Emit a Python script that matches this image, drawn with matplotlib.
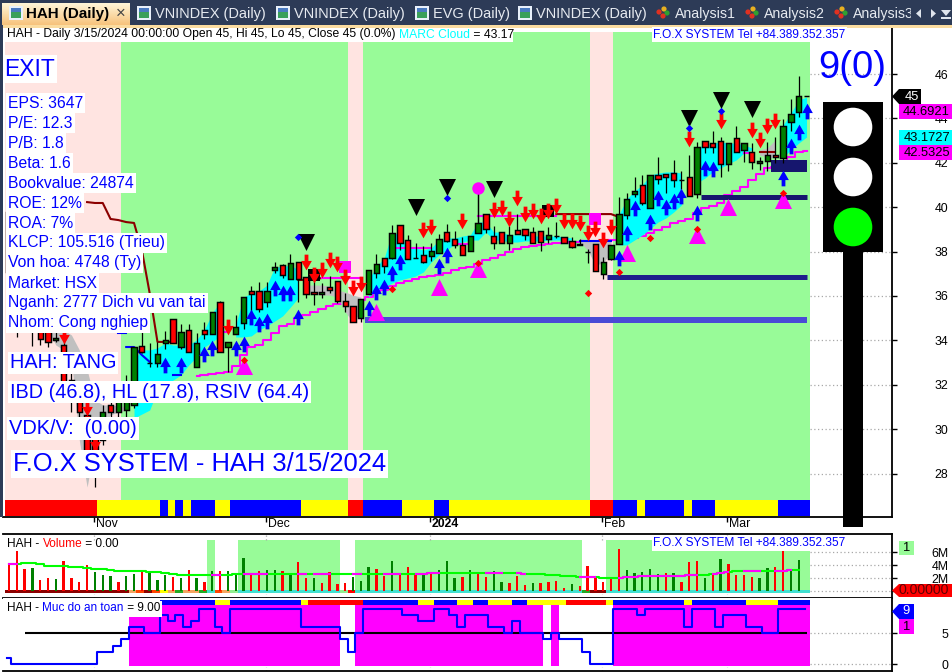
import numpy as np
import matplotlib
matplotlib.use("Agg")
import matplotlib.pyplot as plt
from matplotlib.path import Path
from matplotlib.patches import Rectangle, Circle, Polygon
from matplotlib.transforms import ScaledTranslation

plt.rcParams['font.family'] = ['Liberation Sans', 'DejaVu Sans']

# ---------------- price data (one entry per daily bar) ----------------
opens = [39.78,38.88,38.07,36.36,34.83,34.69,34.02,33.80,32.20,31.40,
 30.64,29.96,29.51,31.09,30.77,30.86,31.09,33.75,32.98,32.98,
 33.88,34.96,33.70,34.47,32.80,34.47,34.29,35.73,33.70,34.29,
 34.78,36.22,36.22,35.73,37.17,37.40,36.76,37.53,36.85,36.18,
 36.09,36.40,36.67,35.77,35.55,35.00,36.09,37.03,37.71,37.71,
 39.20,38.52,37.71,37.85,37.80,37.94,38.88,38.57,38.30,38.03,
 38.84,39.69,38.70,38.88,38.39,38.97,39.02,38.88,38.93,38.57,
 38.70,38.66,38.48,38.30,37.98,38.34,36.99,37.67,38.34,39.65,
 40.59,41.00,39.96,41.45,41.50,41.54,41.22,41.36,40.59,42.98,
 42.89,42.98,41.95,43.12,42.58,42.49,41.99,42.08,42.35,42.22,
 43.84,44.29,45.00]
closes = [37.08,36.90,36.27,35.00,34.06,33.93,34.11,31.99,31.30,30.75,
 28.16,28.84,30.77,30.77,31.54,31.99,33.70,33.48,33.00,33.39,
 34.02,33.88,34.38,33.48,33.88,34.29,35.28,33.48,33.93,34.60,
 35.95,36.09,35.41,36.22,37.31,36.95,37.49,36.76,36.09,36.09,
 36.18,36.27,35.77,35.55,34.83,35.86,37.17,37.44,37.35,38.84,
 38.39,37.67,37.73,37.53,38.03,38.57,38.48,38.30,37.85,38.70,
 39.29,39.02,38.39,38.39,38.75,38.79,38.75,38.39,38.43,38.75,
 38.72,38.39,38.21,38.32,38.00,37.13,37.53,38.30,39.69,40.37,
 40.73,40.19,41.45,41.27,41.36,41.22,41.24,40.50,42.71,42.71,
 42.71,41.95,42.89,42.49,42.89,42.04,42.08,42.35,42.26,43.66,
 44.20,45.00,45.00]
highs = [39.78,39.06,38.30,36.72,35.00,34.92,34.47,34.00,32.60,31.67,
 30.86,30.41,31.09,31.54,31.76,32.44,33.70,34.38,33.88,33.93,
 34.42,34.96,34.74,34.74,34.33,34.83,35.28,35.77,33.93,35.14,
 35.95,36.45,36.63,36.63,37.53,37.44,37.89,37.53,36.85,36.72,
 36.58,36.90,36.67,36.13,35.55,35.86,37.17,37.89,37.71,39.20,
 39.20,38.75,38.39,38.25,38.39,38.79,39.24,38.93,38.66,38.70,
 40.64,39.69,39.15,38.88,39.15,39.69,39.02,39.11,38.93,39.11,
 39.33,38.66,38.66,38.57,38.12,38.34,37.76,38.30,40.46,40.64,
 41.36,41.45,41.45,42.26,41.50,42.13,41.63,42.35,42.94,42.98,
 43.43,43.16,42.89,43.66,42.89,42.89,42.26,42.94,43.16,43.97,
 44.87,45.91,45.00]
lows = [36.63,34.15,35.90,33.75,33.80,33.70,33.93,31.50,30.75,30.50,
 28.07,27.40,29.29,30.41,30.50,30.41,30.95,33.43,32.80,32.80,
 33.61,33.88,33.61,33.48,32.80,34.06,34.29,33.48,32.58,34.29,
 34.51,35.28,35.28,35.50,37.03,36.81,36.76,35.73,35.91,35.59,
 35.91,36.13,35.68,35.28,34.83,34.83,36.09,36.81,37.03,37.67,
 38.07,37.67,37.71,37.49,37.58,37.94,38.43,38.16,37.85,38.03,
 38.84,38.84,38.12,38.39,38.07,38.79,38.52,38.39,38.03,38.39,
 38.61,38.39,38.16,38.30,37.49,37.13,36.76,37.63,38.34,39.47,
 40.46,40.10,39.96,41.04,40.64,40.91,40.82,40.50,40.41,42.44,
 42.44,41.36,41.63,42.49,42.04,41.72,41.68,41.63,41.99,41.99,
 43.43,44.06,45.00]

# MARC cloud, first value belongs to bar 5
cloud_top = [34.47,34.56,34.47,34.24,33.57,32.67,31.31,31.09,31.09,31.04,31.00,
 33.12,33.57,33.57,33.66,33.88,33.79,33.79,33.79,34.02,34.47,35.23,35.73,
 34.38,34.69,35.95,36.13,36.22,36.49,37.31,37.31,37.40,37.17,
 36.49,36.49,36.49,36.45,36.27,36.18,36.04,35.95,
 36.72,37.35,37.71,38.88,38.75,38.16,38.16,38.07,38.16,38.52,38.61,38.61,38.70,38.75,
 39.33,39.33,38.88,38.88,38.75,38.75,38.75,38.70,38.70,38.70,38.70,38.66,38.61,
 38.61,38.52,38.52,38.52,38.52,
 39.65,40.37,40.73,41.00,41.45,41.54,41.59,41.59,41.54,41.68,
 42.71,42.80,42.89,42.94,42.89,42.89,42.80,42.67,42.58,42.67,43.03,
 43.70,44.24,44.83,44.96]
cloud_bot = [34.47,33.79,33.57,33.12,29.51,27.39,29.29,30.19,30.64,30.77,30.86,
 30.50,30.68,30.86,31.76,31.99,32.21,32.44,32.89,33.25,33.70,33.93,34.20,
 34.02,34.15,34.15,34.20,34.47,34.65,34.87,35.10,35.50,35.91,
 36.18,36.09,36.04,36.04,35.95,35.28,34.83,35.28,
 35.95,36.27,36.40,36.58,36.72,36.81,36.90,37.08,37.53,37.85,38.07,38.34,38.43,38.52,
 38.52,38.88,38.52,38.52,38.43,38.43,38.48,38.48,38.48,38.52,38.52,38.52,38.52,
 38.43,38.07,37.40,37.49,37.98,
 38.30,38.30,38.52,38.75,39.02,39.33,39.51,39.78,40.10,41.00,
 41.09,41.31,41.59,41.77,41.95,42.13,42.44,42.58,42.35,42.26,42.22,
 42.26,42.58,42.89,43.16]
# run-length edges of the cloud colour, in bars
cloud_edges = [5,16,28,29,38,46,73,78,87,88,96,99,103]
cloud_kinds = ['g','c','g','c','g','c','g','c','g','c','g','c']

# lower stepped magenta line, last value belongs to the last bar
marc_lower = [32.40,32.44,32.49,32.53,32.58,32.85,33.34,33.70,33.79,34.02,34.33,34.65,34.74,
 35.01,35.14,35.28,35.41,35.55,35.64,35.68,35.68,35.82,35.95,36.13,36.27,36.45,36.58,36.67,
 36.76,36.85,36.90,36.94,37.03,37.17,37.26,37.31,37.44,37.62,37.71,37.85,37.98,38.12,38.21,
 38.25,38.30,38.34,38.39,38.39,38.43,38.43,38.43,38.43,38.48,38.52,38.52,38.57,38.61,38.70,
 38.84,38.97,39.11,39.29,39.38,39.47,39.74,39.96,40.05,40.19,40.55,40.73,40.91,41.22,41.50,
 41.77,41.81,42.04,42.26,42.49,42.53]

# short stop lines
dark_bars = [10,11,12,13,14,15,16,17,18,19,20,21]
dark_vals = [40.23,40.19,40.19,39.47,39.42,39.33,39.29,38.07,36.13,33.93,33.93,33.93]
dark2_bars = [37,38,39,40]
dark2_vals = [36.72,36.72,36.72,36.81]
dark3_bars = [70,71,72,73,74,75,76,77,78]
dark3_vals = [39.69,39.69,39.69,39.69,39.69,39.69,39.69,39.69,39.56]
dark4_bars = [96,97,98]
dark4_vals = [42.49,42.49,42.49]
mag_runs = [([27,28],[34.38,34.38]),([40,41,42,43,44,45],[36.81]*6),([49,50,51,52,53,54],[38.16]*6),
            ([57,58,59],[38.34]*3),([60,61,62,63,64,65,66,67,68,69,70],[39.60]*11),([94,95],[42.44,42.44])]
blue_runs = [([14,15],[34.33,34.33]),([15,16,17,18],[33.70,33.70,33.34,33.03]),([21,22],[32.44,32.44]),
             ([73,74,75,76,77],[38.48]*5)]

# signals: bar index and price
up_bars = [20,22,25,26,29,30,31,32,33,34,35,36,37,46,47,48,49,50,55,56,78,79,80,82,83,84,85,86,88,89,90,99,100,101,102]
up_vals = [32.89,32.89,33.39,33.66,33.66,33.84,35.05,34.74,34.87,36.36,36.13,36.13,35.05,35.46,36.18,36.40,
           37.04,37.53,37.35,37.85,37.71,38.84,39.96,39.33,40.41,40.01,40.28,40.50,39.74,41.77,41.72,41.31,42.76,43.39,44.33]
down_bars = [7,10,11,28,38,39,40,41,42,43,44,45,53,54,58,62,63,64,65,66,67,68,69,70,71,72,73,74,75,76,77,87,91,95,96,97,98]
down_vals = [34.20,30.96,29.38,34.60,37.53,36.94,37.17,37.62,37.44,36.85,36.36,36.54,38.97,39.11,39.38,39.87,39.96,
             39.47,40.41,39.69,39.83,39.60,39.83,40.05,39.38,39.38,39.29,38.84,39.02,38.52,39.11,43.07,43.88,43.48,43.03,43.66,43.88]
sell_bars = [38,52,56,62,87,91,95]
sell_vals = [38.43,40.01,40.91,40.82,44.02,44.83,44.42]
buy_bars = [30,47,55,60,79,88,92,99]
buy_vals = [32.85,35.28,36.40,37.22,37.94,38.75,40.01,40.32]
rdiam_bars = [30,49,60,74,78,82,88,99]
rdiam_vals = [33.12,36.31,37.49,36.13,37.08,38.61,39.02,40.64]
bdiam_bars = [37,56,87,91]
bdiam_vals = [38.66,40.41,43.57,44.33]
box_bars = [39,69]
box_vals = [36.94,39.83]
msq_bars = [43,75]
msq_vals = [37.31,39.47]
ball_bar = [60]
ball_val = [40.86]
sup_levels = [34.92,36.85,40.46,41.86]
sup_start = [46,77,89,98]
sup_colors = ['#4a4ad6','#1e1e8c','#16166e','#16166e']
sup_widths = [6,5,5,12]

# zone and state runs, edges given in bars
zone_edges = [0,15,44,46,75,78,103]
zone_kinds = ['p','g','p','g','p','g']
state_edges = [0,12,20,21,22,23,24,27,29,38,44,46,51,55,57,75,78,81,82,87,88,91,99,103]
state_kinds = list("rybybybybyrbybyrbybybyb")

# volume, millions of shares
volumes = [4.27,6.2,3.39,3.59,1.82,2.08,1.93,4.64,1.98,1.51,4.01,2.97,2.55,2.29,1.51,2.29,2.6,2.97,3.07,1.82,
 2.55,2.14,1.98,3.23,2.03,1.41,3.07,3.07,3.07,2.6,5.1,2.55,3.07,3.23,3.23,3.07,2.45,4.48,2.08,1.98,
 1.35,2.92,1.2,1.35,2.14,1.67,3.7,3.39,2.29,4.64,2.81,3.7,2.5,2.45,2.92,3.23,4.64,1.98,2.14,3.23,
 2.92,2.14,3.07,1.51,1.35,2.29,1.04,1.35,1.35,1.51,1.67,0.57,1.2,0.89,3.85,2.29,1.51,2.14,6.51,3.23,
 2.76,2.92,3.39,2.6,2.76,2.76,1.51,4.48,4.64,1.98,2.6,4.95,4.17,2.45,2.45,2.14,1.98,3.54,3.7,6.2,
 3.23,4.79,0.0]
vol_colors = list("rrrgrrgrrrrgggrggrgggrgrgrgrggg" "rrgg" "rgrrgrrrrgggrrgrrrgrgggrgrrgg" "rrrgrrrrgrrrrrrggggg" "rgrrrgrgrrrrggrrggrggg" "g")
vol_ma = [4.27,4.27,4.40,4.35,4.15,3.95,3.85,3.85,3.75,3.70,3.60,3.49,3.40,3.33,3.20,3.12,3.10,3.07,3.00,2.92,
 2.75,2.60,2.50,2.45,2.45,2.45,2.45,2.45,2.50,2.60,2.65,2.65,2.60,2.60,2.60,2.65,2.65,2.65,2.60,2.60,
 2.60,2.60,2.60,2.60,2.60,2.60,2.65,2.65,2.65,2.70,2.70,2.70,2.70,2.70,2.75,2.75,2.75,2.80,2.80,2.85,
 2.85,2.86,2.86,2.86,2.86,2.75,2.70,2.70,2.60,2.55,2.50,2.35,2.30,2.20,2.20,2.15,2.10,2.08,2.10,2.20,
 2.25,2.29,2.29,2.35,2.35,2.40,2.40,2.50,2.50,2.55,2.70,2.80,3.00,3.10,3.10,3.10,3.10,3.10,3.15,3.20,3.30,3.30]
vol_ma_mag_runs = [(0,1),(26,27),(30,33),(37,38),(39,41),(44,45),(48,50),(52,55),(61,63),(65,66),(73,75),(78,88),(90,92),(94,96),(98,100)]
vol_zone_edges = [26,27,30,43,45,74,77,103]
vol_zone_show = [1,0,1,0,1,0,1]
band_edges = [0,16,17,18,19,20,21,22,23,25,26,27,28,29,30,43,44,45,74,75,77,103]
band_colors = ['#8b0000','#f4a460','#ff4500','#8b0000','#ff4500','#ffff00','#f4a460','#22aa22','#f4a460','#22aa22',
               '#40e0d0','#ff4500','#f4a460','#90ee90','#40e0d0','#90ee90','#ff0000','#40e0d0','#22aa22','#8b0000','#40e0d0']

# safety score pane
safe_levels = [1]+[0]*11+[2]*2+[3]+[4]+[6]*2+[5]*2+[8,7,8,6,7]+[9]*2+[6,5]+[9]*9+[6]*5+[4,2,5]+[9]*5+[8]*2+[7]*2+[9]*2+[8,6]+[8]*3+[6]*2+[5,7]+[5]*3+[4,5]+[4]*3+[2]+[0]*3+[9]*3+[8]+[9]*5+[6]+[9]*3+[6]+[8]*3+[6]*2+[5]*2+[9]*4
safe_zone_edges = [16,20,43,45,69,70,71,78,103]
safe_zone_top = [8.0,9.6,None,9.6,None,9.6,None,9.6]
safe_state_edges = [20,27,29,38,39,46,53,55,58,60,62,65,67,72,77,78,87,88,95,99,103]
safe_state_kinds = list("bybyrbybybybyrybybyb")

price_ticks = [28,30,32,34,36,38,40,42,44,46]
vol_ticks = [0,2,4,6]
vol_tick_labels = ['','2M','4M','6M']
safe_ticks = [0,5]
month_bars = [11,33,54,76,92]
month_labels = ['Nov','Dec','2024','Feb','Mar']

info_lines = ["EPS: 3647","P/E: 12.3","P/B: 1.8","Beta: 1.6","Bookvalue: 24874","ROE: 12%","ROA: 7%",
              "KLCP: 105.516 (Trieu)","Von hoa: 4748 (Ty)","Market: HSX","Nganh: 2777 Dich vu van tai","Nhom: Cong nghiep"]

# ---------------- layout ----------------
W, H = 952, 672
fig = plt.figure(figsize=(W/100, H/100), dpi=100, facecolor='white')
BAR0, STEP = 8.9, 7.82
LEFT, RIGHT = 3, 892
XLIM = ((LEFT-BAR0)/STEP, (RIGHT-BAR0)/STEP)
def pane(top, bottom):
    return fig.add_axes([LEFT/W, 1-bottom/H, (RIGHT-LEFT)/W, (bottom-top)/H])
def edge(k):
    return k-0.7
COLS = {'r':'#ff0000','y':'#ffff00','b':'#0000ff','p':'#ffe4e1','g':'#98fb98'}
DOT = dict(color='#a8a8a8', lw=0.9, ls=(0,(1,2)))
FS = 8.7

def style(ax, yticks, ylim):
    ax.set_xlim(*XLIM); ax.set_ylim(*ylim)
    for s in ('left',): ax.spines[s].set_visible(False)
    for s in ('top','right','bottom'): ax.spines[s].set_linewidth(1.3)
    ax.yaxis.tick_right()
    ax.set_yticks(yticks)
    ax.tick_params(axis='y', length=3.5, width=1, labelsize=FS+0.2, pad=37)
    for l in ax.get_yticklabels(): l.set_horizontalalignment('right')
    ax.hlines(yticks, (810-BAR0)/STEP, XLIM[1], zorder=0.5, **DOT)

# ---------------- main pane ----------------
ax = pane(27, 517)
style(ax, price_ticks, (26.04, 48.12))
ax.spines['top'].set_visible(False)
x = np.arange(len(closes))
for a, b, k in zip(zone_edges[:-1], zone_edges[1:], zone_kinds):
    ax.axvspan(max(edge(a), -0.5), edge(b)+0.2*(b == 103), ymin=(517-500)/490, ymax=(517-32)/490, color=COLS[k], lw=0, zorder=0)
for a, b, k in zip(state_edges[:-1], state_edges[1:], state_kinds):
    ax.axvspan(max(edge(a), -0.5), edge(b)+0.2*(b == 103), ymin=1/490, ymax=(517-500)/490, color=COLS[k], lw=0, zorder=1)

cx = np.arange(5, 103)
ct, cb = np.array(cloud_top), np.array(cloud_bot)
ax.plot(np.arange(103-len(marc_lower), 103), marc_lower, color='#ff00ff', lw=1.5, drawstyle='steps-mid', zorder=1.5)
for a, b, k in zip(cloud_edges[:-1], cloud_edges[1:], cloud_kinds):
    m = (cx >= a) & (cx < b)
    ax.fill_between(cx[m], ct[m], cb[m], color='#00ffff' if k == 'c' else '#c0c0c0', lw=0, zorder=2)

for bars, vals in ((dark_bars, dark_vals), (dark2_bars, dark2_vals), (dark3_bars, dark3_vals), (dark4_bars, dark4_vals)):
    ax.plot(bars, vals, color='#8b0000', lw=1.5, zorder=2.5)
for bars, vals in mag_runs:
    ax.plot(bars, vals, color='#ff00ff', lw=1.5, zorder=2.5)
for bars, vals in blue_runs:
    ax.plot(bars, vals, color='#0000ff', lw=1.5, zorder=2.5)

for lvl, st, col, w in zip(sup_levels, sup_start, sup_colors, sup_widths):
    ax.hlines(lvl, st-0.5, 102, color=col, lw=w*0.72, zorder=2.6)

ax.vlines(ball_bar, [38.84], ball_val, color='black', lw=0.9, zorder=3)
ax.vlines(x, lows, highs, color='black', lw=0.9, zorder=3)
o, c = np.array(opens), np.array(closes)
bcol = np.where(c < o, '#ff0000', '#008000')
hgt = np.abs(c-o)
ax.bar(x, hgt, bottom=np.minimum(o, c), width=0.68, color=bcol, edgecolor='black', linewidth=1.05, zorder=3.2)

up_arrow = Path([(0,1),(0.68,-0.2),(0.24,-0.2),(0.24,-1),(-0.24,-1),(-0.24,-0.2),(-0.68,-0.2),(0,1)], closed=True)
down_arrow = Path([(0,-1),(0.68,0.2),(0.24,0.2),(0.24,1),(-0.24,1),(-0.24,0.2),(-0.68,0.2),(0,-1)], closed=True)
ax.scatter(box_bars, box_vals, marker='s', s=72, color='black', lw=0, zorder=3.5)
ax.scatter(msq_bars, msq_vals, marker='s', s=72, color='#ff00ff', lw=0, zorder=3.5)
ax.scatter(up_bars, up_vals, marker=up_arrow, s=128, color='#0000ff', lw=0, zorder=4)
ax.scatter(down_bars, down_vals, marker=down_arrow, s=128, color='#ff0000', lw=0, zorder=4)
ax.scatter(sell_bars, sell_vals, marker='v', s=150, color='black', lw=0, zorder=4)
ax.scatter(buy_bars, buy_vals, marker='^', s=150, color='#ff00ff', lw=0, zorder=3.8)
ax.scatter(rdiam_bars, rdiam_vals, marker='D', s=14, color='#ff0000', lw=0, zorder=4.2)
ax.scatter(bdiam_bars, bdiam_vals, marker='D', s=14, color='#0000ff', lw=0, zorder=4.2)
ax.scatter(ball_bar, ball_val, marker='o', s=80, color='#ff00ff', lw=0, zorder=4.2)

ax.set_xticks(np.array(month_bars)-0.15)
ax.set_xticklabels(month_labels, fontsize=FS+0.1, ha='left')
ax.tick_params(axis='x', length=3.5, width=1, pad=-2.5)
off = ScaledTranslation(2/100, 0, fig.dpi_scale_trans)
for l in ax.get_xticklabels():
    l.set_transform(l.get_transform()+off)
    if l.get_text() == '2024': l.set_fontweight('bold')

# ---------------- volume pane ----------------
vx = pane(534, 598)
style(vx, vol_ticks, (-1.01, 8.8))
vx.set_yticklabels(vol_tick_labels)
vx.set_xticks([])
for a, b, s in zip(vol_zone_edges[:-1], vol_zone_edges[1:], vol_zone_show):
    if s:
        vx.axvspan(edge(a), edge(b)+0.2*(b == 103), ymin=(-0.25+1.01)/9.81, ymax=(7.87+1.01)/9.81, color=COLS['g'], lw=0, zorder=0)
for a, b, col in zip(band_edges[:-1], band_edges[1:], band_colors):
    vx.axvspan(max(edge(a), -0.5), edge(b)+0.2*(b == 103), ymin=(-0.25+1.01)/9.81, ymax=(0.25+1.01)/9.81, color=col, lw=0, zorder=1)
vx.bar(x, volumes, width=0.3, color=['#ff0000' if k == 'r' else '#008000' for k in vol_colors[:len(volumes)]], lw=0, zorder=2)
mx = np.arange(len(vol_ma))
vx.plot(mx, vol_ma, color='#00ff00', lw=1.5, drawstyle='steps-mid', zorder=3)
for a, b in vol_ma_mag_runs:
    vx.plot(mx[a:b+1], np.array(vol_ma)[a:b+1], color='#ff00ff', lw=1.5, drawstyle='steps-mid', zorder=3.1)
vx.vlines(np.array(month_bars)-0.15, -1.01, -0.35, **DOT)
vx.vlines(np.array(month_bars)-0.15, 7.9, 8.8, **DOT)

# ---------------- safety pane ----------------
sx = pane(598, 671)
style(sx, safe_ticks, (-1.13, 10.72))
sx.set_xticks([])
sx.spines['top'].set_visible(False)
for a, b, t in zip(safe_zone_edges[:-1], safe_zone_edges[1:], safe_zone_top):
    if t is not None:
        sx.fill_between([edge(a), edge(b)+0.2*(b == 103)], -0.3, t, color='#ff00ff', lw=0, zorder=1)
for a, b, k in zip(safe_state_edges[:-1], safe_state_edges[1:], safe_state_kinds):
    sx.fill_between([edge(a), edge(b)+0.2*(b == 103)], 9.6, 10.4, color=COLS[k], lw=0, zorder=1)
sx.hlines(5, 2, 102, color='black', lw=1.5, zorder=2)
sx.plot(np.arange(len(safe_levels))-0.2, safe_levels, color='#0000ff', lw=1.5, drawstyle='steps-mid', zorder=3)
sx.vlines(np.array(month_bars)-0.15, -1.13, -0.4, **DOT)

# ---------------- overlay in pixel units ----------------
ov = fig.add_axes([0, 0, 1, 1], zorder=10)
ov.set_xlim(0, W); ov.set_ylim(H, 0); ov.axis('off'); ov.patch.set_alpha(0)
renderer = fig.canvas.get_renderer()

def rect(x0, y0, x1, y1, col, z=1):
    ov.add_patch(Rectangle((x0, y0), x1-x0, y1-y0, fc=col, ec='none', lw=0, zorder=z))

def multi(x0, yc, parts, size, z=6, bg=False):
    prefix = ''
    for s, col in parts:
        bar = ov.text(0, 0, '|', fontsize=size)
        wb = bar.get_window_extent(renderer).width; bar.remove()
        tmp = ov.text(0, 0, prefix+'|', fontsize=size)
        w = tmp.get_window_extent(renderer).width-wb; tmp.remove()
        if not prefix: w = 0
        ov.text(x0+w, yc, s, color=col, fontsize=size, va='center', ha='left', zorder=z)
        prefix += s

def label(x0, yc, s, size, pad=1.5):
    ov.text(x0, yc, s, color='#0000ff', fontsize=size, va='center', ha='left', zorder=7,
            bbox=dict(fc='white', ec='none', pad=pad))

# tab strip
rect(0, 0, W, 25, '#2d3b57')
rect(0, 25, W, 27.5, '#fbdca0')
rect(0, 25, 2.5, 517, '#2d3b57', 8)
ov.imshow(np.linspace(0, 1, 24)[:, None, None]*np.array([[[-8, -50, -90]]])/255+np.array([[[255, 245, 215]]])/255,
          extent=(2, 130, 25, 3), aspect='auto', zorder=2)
ov.set_xlim(0, W); ov.set_ylim(H, 0)
ov.text(26, 14, 'HAH (Daily)', fontsize=10.9, fontweight='bold', color='black', va='center', zorder=3)
ov.text(116, 13, '×', fontsize=12, color='#444444', va='center', zorder=3)
tab_x = [155, 294, 433, 536]
tab_names = ['VNINDEX (Daily)', 'VNINDEX (Daily)', 'EVG (Daily)', 'VNINDEX (Daily)']
for tx, name in zip(tab_x, tab_names):
    ov.text(tx, 14, name, fontsize=10.45, color='#e6eaf0', va='center', zorder=3)
    rect(tx-18, 6, tx-4, 20, '#e8f0fa', 3); rect(tx-16, 12, tx-6, 18, '#3aa05a', 3); rect(tx-16, 8, tx-6, 12, '#4a7ac0', 3)
for icon_x in [9, ]:
    rect(icon_x, 6, icon_x+14, 20, '#e8f0fa', 3); rect(icon_x+2, 12, icon_x+12, 18, '#3aa05a', 3); rect(icon_x+2, 8, icon_x+12, 12, '#4a7ac0', 3)
an_x = [675, 764, 853]
an_names = ['Analysis1', 'Analysis2', 'Analysis3']
for tx, name in zip(an_x, an_names):
    t = ov.text(tx, 14, name, fontsize=10.2, color='#e6eaf0', va='center', zorder=3)
    t.set_clip_path(Rectangle((0, 0), 911, H, transform=ov.transData)); t.set_clip_on(True)
    for dx, dy, col in ((-16, 12, '#e03020'), (-11, 9, '#e8b020'), (-8, 13, '#30a030'), (-12, 16, '#e03020')):
        ov.add_patch(Circle((tx+dx, dy), 2.6, fc=col, ec='none', zorder=3))
ov.add_patch(Polygon([(921, 9), (921, 18), (916, 13.5)], fc='#dfe4ec', ec='none', zorder=3))
ov.add_patch(Polygon([(931, 9), (931, 18), (936, 13.5)], fc='#dfe4ec', ec='none', zorder=3))
ov.add_patch(Polygon([(941, 10), (951, 10), (946, 16)], fc='#dfe4ec', ec='none', zorder=3))
rect(941, 17, 951, 18.5, '#dfe4ec', 3)

# title row
rect(5, 27.5, 513, 42, 'white', 4)
multi(7, 34.5, [('HAH - Daily 3/15/2024 00:00:00 Open 45, Hi 45, Lo 45, Close 45 (0.0%) ', 'black'),
                ('MARC Cloud', '#00ffff'), (' = 43.17', 'black')], FS)
ov.text(653, 34.5, 'F.O.X SYSTEM Tel +84.389.352.357', fontsize=FS-0.1, color='#0000ff', va='center', zorder=7,
        bbox=dict(fc='white', ec='none', pad=1))
ov.text(653, 543.5, 'F.O.X SYSTEM Tel +84.389.352.357', fontsize=FS-0.1, color='#0000ff', va='center', zorder=7,
        bbox=dict(fc='white', ec='none', pad=1))
multi(7, 544, [('HAH - ', 'black'), ('Volume', '#ff0000'), (' = 0.00', 'black')], FS-0.1)
rect(7, 601, 162, 617, 'white', 4)
multi(7, 608, [('HAH - ', 'black'), ('Muc do an toan', '#0000ff'), (' = 9.00', 'black')], FS-0.2)

# info texts
label(4, 69, 'EXIT', 16.5)
info_y = [103,123,143,163,183,203,223,243,263,283,303,323]
for yy, s in zip(info_y, info_lines):
    label(8, yy, s, 11.3)
label(10, 363, 'HAH: TANG', 14.3)
label(10, 392, 'IBD (46.8), HL (17.8), RSIV (64.4)', 14.3)
label(9, 428, 'VDK/V:  (0.00)', 14.4)
label(13, 464, 'F.O.X SYSTEM - HAH 3/15/2024', 18.4)
ov.text(852.5, 68, '9(0)', fontsize=27.5, color='#0000ff', va='center', ha='center', zorder=7)

# traffic light
rect(843, 252, 863, 527, 'black', 5)
rect(823, 102, 883, 252, 'black', 5)
for yy, col in ((127, 'white'), (177, 'white'), (227, '#00ff00')):
    ov.add_patch(Circle((853, yy), 19.3, fc=col, ec='none', zorder=6))

# axis tags
def flag(y0, y1, x1, col, txt, tcol, tx, fs):
    ov.add_patch(Polygon([(892, (y0+y1)/2), (899, y0), (x1, y0), (x1, y1), (899, y1)], fc=col, ec='none', zorder=6))
    ov.text(tx, (y0+y1)/2, txt, color=tcol, fontsize=fs, ha='right', va='center', zorder=7)
def tag(y0, y1, x1, col, txt, tx):
    rect(899, y0, x1, y1, col, 6)
    ov.text(tx, (y0+y1)/2+0.3, txt, color='black', fontsize=FS+0.6, ha='right', va='center', zorder=7)
flag(89, 104, 921, 'black', '45', 'white', 919, FS+0.6)
tag(104, 119, 952, '#ff00ff', '44.6921', 950)
tag(130, 145, 952, '#00ffff', '43.1727', 950)
tag(145, 160, 952, '#ff00ff', '42.5325', 950)
tag(541, 555, 914, '#98fb98', '1', 910)
flag(584, 597, 952, '#ff0000', '0.00000', '#600000', 949, FS+1.4)
flag(604, 619, 914, '#0000ff', '9', 'white', 910, FS+0.6)
tag(619, 634, 914, '#ff00ff', '1', 910)

fig.savefig('out.png', dpi=100, facecolor='white')
